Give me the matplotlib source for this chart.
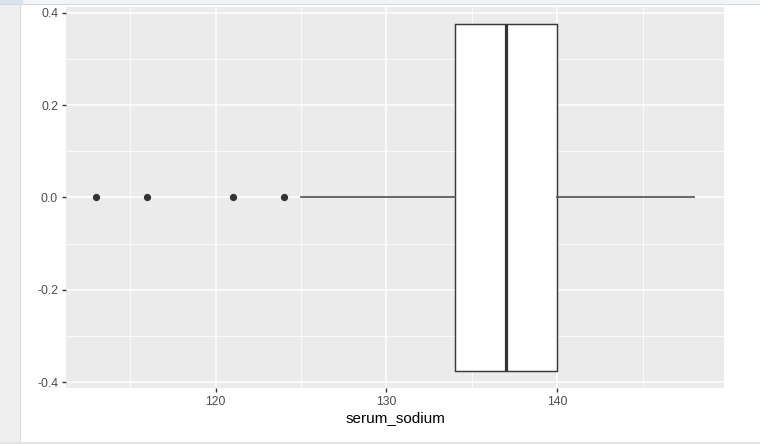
import matplotlib
matplotlib.use("Agg")
import matplotlib.pyplot as plt
import matplotlib.patches as mpatches
from matplotlib.ticker import MultipleLocator

plt.rcParams["font.family"] = ["Liberation Sans", "DejaVu Sans"]
plt.rcParams["axes.unicode_minus"] = False

# boxplot summary of serum_sodium
q1 = 134
median = 137
q3 = 140
whisker_low = 125
whisker_high = 148
outliers = [113, 116, 121, 124]

x_ticks = [120, 130, 140]
y_ticks = [-0.4, -0.2, 0.0, 0.2, 0.4]
y_tick_labels = ["-0.4", "-0.2", "0.0", "0.2", "0.4"]
x_label = "serum_sodium"

PANEL_GREY = "#EBEBEB"
DARK_LINE = "#333333"
TICK_TEXT = "#4D4D4D"

W, H = 760, 444
fig = plt.figure(figsize=(W / 100, H / 100), dpi=100)
fig.patch.set_facecolor("white")

# viewer frame around the plot
fig.patches.append(mpatches.Rectangle((0, 0), 20 / W, 1, transform=fig.transFigure,
                                      facecolor="#EFEFEF", edgecolor="none", zorder=-5))
fig.patches.append(mpatches.Rectangle((20 / W, 0), 1.2 / W, 1, transform=fig.transFigure,
                                      facecolor="#DADADA", edgecolor="none", zorder=-4))
fig.patches.append(mpatches.Rectangle((0, 0), 1, 2.5 / H, transform=fig.transFigure,
                                      facecolor="#E3E3E3", edgecolor="none", zorder=-4))
fig.patches.append(mpatches.Rectangle((0, 1 - 4 / H), 1, 4 / H, transform=fig.transFigure,
                                      facecolor="#F1F4F6", edgecolor="none", zorder=-4))
fig.patches.append(mpatches.Rectangle((0, 1 - 4 / H), 23 / W, 4 / H, transform=fig.transFigure,
                                      facecolor="#D8E2EC", edgecolor="none", zorder=-3))
fig.patches.append(mpatches.Rectangle((0, 1 - 5 / H), 1, 1 / H, transform=fig.transFigure,
                                      facecolor="#D5DADF", edgecolor="none", zorder=-3))

left, right, top, bottom = 66, 724, 7, 388
ax = fig.add_axes([left / W, (H - bottom) / H, (right - left) / W, (bottom - top) / H])
ax.set_facecolor(PANEL_GREY)
for spine in ax.spines.values():
    spine.set_visible(False)

stats = [{
    "q1": q1, "med": median, "q3": q3,
    "whislo": whisker_low, "whishi": whisker_high,
    "fliers": outliers,
}]
ax.bxp(
    stats,
    positions=[0],
    widths=0.75,
    orientation="horizontal",
    showcaps=False,
    patch_artist=True,
    boxprops=dict(facecolor="white", edgecolor="#3a3a3a", linewidth=1.05),
    medianprops=dict(color=DARK_LINE, linewidth=2.3, solid_capstyle="butt"),
    whiskerprops=dict(color="#555555", linewidth=1.25),
    flierprops=dict(marker="o", markersize=4.2, markerfacecolor=DARK_LINE,
                    markeredgecolor=DARK_LINE, linestyle="none"),
    zorder=3,
)

data_min = min(outliers)
data_max = whisker_high
span = data_max - data_min
ax.set_xlim(data_min - 0.05 * span, data_max + 0.05 * span)
ax.set_ylim(-0.4125, 0.4125)

ax.set_xticks(x_ticks)
ax.set_xticklabels([str(t) for t in x_ticks])
ax.set_yticks(y_ticks)
ax.set_yticklabels(y_tick_labels)
ax.xaxis.set_minor_locator(MultipleLocator(5))
ax.yaxis.set_minor_locator(MultipleLocator(0.1))

ax.grid(which="major", color="white", linewidth=1.1)
ax.grid(which="minor", color="white", linewidth=0.55)
ax.set_axisbelow(True)

ax.tick_params(which="major", length=3.2, width=1.0, color=DARK_LINE,
               labelcolor=TICK_TEXT, labelsize=8.8, pad=2.5)
ax.tick_params(which="minor", length=0)

ax.set_xlabel(x_label, fontsize=11, color="black", labelpad=2.5)

fig.savefig("out.png", dpi=100)
